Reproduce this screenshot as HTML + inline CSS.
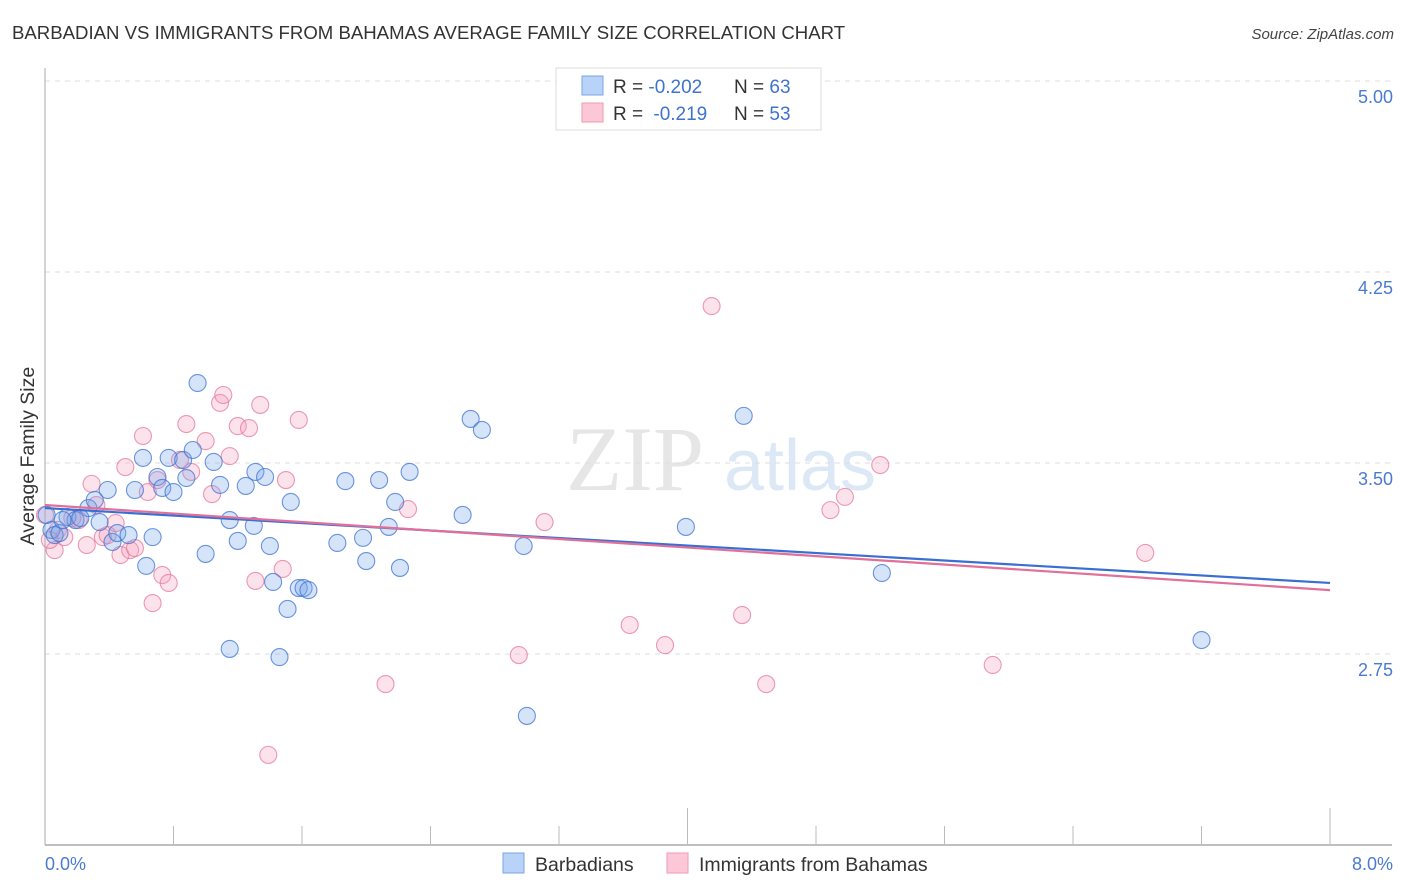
<!DOCTYPE html>
<html><head><meta charset="utf-8"><style>
body{margin:0;background:#fff;font-family:"Liberation Sans",sans-serif;}
svg{display:block}
</style></head><body>
<svg id="chart" width="1406" height="892" viewBox="0 0 1406 892" xmlns="http://www.w3.org/2000/svg">
<text x="12" y="39" font-size="18.6" fill="#333">BARBADIAN VS IMMIGRANTS FROM BAHAMAS AVERAGE FAMILY SIZE CORRELATION CHART</text>
<text x="1394" y="39" font-size="15" fill="#444" font-style="italic" text-anchor="end">Source: ZipAtlas.com</text>
<g>
<text x="635" y="490" font-family="Liberation Serif,serif" font-size="92" fill="#e6e6e6" text-anchor="middle">ZIP</text>
<text x="800" y="490" font-size="72" fill="#dde8f6" text-anchor="middle">atlas</text>
</g>
<g id="grid"></g>
<g id="axes"></g>
<g id="pts"></g>
<g id="trend"></g>
<text transform="translate(34,456) rotate(-90)" font-size="19.5" fill="#333" text-anchor="middle">Average Family Size</text>
<g>
<rect x="556" y="68" width="265" height="62" fill="#fff" stroke="#ddd"/>
<rect x="582" y="76" width="21" height="19" fill="#b8d3f7" stroke="#7aa6e6"/>
<rect x="582" y="103" width="21" height="19" fill="#fcc8d8" stroke="#ee9ab5"/>
<text x="613" y="93" font-size="19" fill="#333">R = <tspan fill="#3f73d0">-0.202</tspan><tspan x="734">N = </tspan><tspan fill="#3f73d0">63</tspan></text>
<text x="613" y="120" font-size="19" fill="#333">R = <tspan fill="#3f73d0" dx="5">-0.219</tspan><tspan x="734">N = </tspan><tspan fill="#3f73d0">53</tspan></text>
</g>
<g>
<rect x="503" y="853" width="21" height="20" fill="#b8d3f7" stroke="#7aa6e6"/>
<text x="535" y="871" font-size="19.5" fill="#333">Barbadians</text>
<rect x="667" y="853" width="21" height="20" fill="#fcc8d8" stroke="#ee9ab5"/>
<text x="699" y="871" font-size="19.5" fill="#333">Immigrants from Bahamas</text>
</g>
</svg>
<script>
const yTicks=[5.00,4.25,3.50,2.75];
const yTickLabels=["5.00","4.25","3.50","2.75"];
const xTickLabels=["0.0%","8.0%"];
const blueX=[.04,.06,.09,.14,.19,.27,.31,.34,.39,.42,.45,.52,.56,.61,.63,.67,.70,.73,.77,.80,.86,.88,.92,.95,1.00,1.05,1.09,1.15,1.15,1.20,1.25,1.30,1.31,1.37,1.40,1.42,1.46,1.51,1.53,1.58,1.61,1.64,1.82,1.87,1.98,2.00,2.08,2.14,2.18,2.21,2.27,2.60,2.65,2.72,2.98,3.00,3.99,4.35,5.21,7.20,.01,.11,.22];
const blueY=[3.237,3.217,3.225,3.288,3.276,3.323,3.355,3.268,3.394,3.190,3.225,3.217,3.394,3.520,3.096,3.209,3.445,3.402,3.520,3.386,3.512,3.441,3.551,3.814,3.143,3.504,3.414,3.276,2.770,3.194,3.410,3.253,3.465,3.445,3.174,3.033,2.738,2.927,3.347,3.009,3.009,3.001,3.186,3.429,3.206,3.115,3.433,3.249,3.347,3.088,3.465,3.296,3.673,3.630,3.174,2.507,3.249,3.685,3.068,2.805,3.296,3.276,3.284];
const pinkX=[.06,.08,.12,.21,.26,.29,.32,.36,.39,.44,.47,.50,.53,.56,.61,.64,.67,.70,.73,.77,.84,.88,.91,1.00,1.04,1.09,1.11,1.15,1.20,1.27,1.31,1.34,1.48,1.50,1.58,2.26,2.12,2.95,3.11,3.64,3.86,4.15,4.34,4.49,4.89,4.98,5.20,5.90,6.85,1.39,0.00,.17,.03];
const pinkY=[3.158,3.237,3.209,3.276,3.178,3.418,3.335,3.209,3.217,3.264,3.139,3.484,3.158,3.166,3.606,3.386,2.950,3.433,3.060,3.029,3.512,3.653,3.465,3.586,3.378,3.736,3.767,3.527,3.645,3.637,3.037,3.728,3.084,3.433,3.669,3.319,2.632,2.746,3.268,2.864,2.785,4.116,2.903,2.632,3.315,3.367,3.492,2.707,3.147,2.354,3.296,3.284,3.198];
const blueTrend=[3.323,3.029];
const pinkTrend=[3.335,3.001];

const X0=45,X1=1330,Y35=463,PPU=254.7;
const xs=v=>X0+(v/8)*(X1-X0);
const ys=v=>Y35-(v-3.5)*PPU;
const NS="http://www.w3.org/2000/svg";
function mk(tag,attrs,parent){const e=document.createElementNS(NS,tag);for(const k in attrs)e.setAttribute(k,attrs[k]);parent.appendChild(e);return e;}
const grid=document.getElementById('grid'),axes=document.getElementById('axes'),pts=document.getElementById('pts'),trend=document.getElementById('trend');
yTicks.forEach((t,i)=>{
  const l=mk('line',{x1:X0,x2:1392,y1:ys(t),y2:ys(t),stroke:'#ddd','stroke-dasharray':'5,5'},grid);
  
  
  const tx=mk('text',{x:1393,y:ys(t)+22,'font-size':18,fill:'#4a7bd0','text-anchor':'end'},axes);
  tx.textContent=yTickLabels[i];
  
  
});
mk('line',{x1:X0,x2:X0,y1:68,y2:845,stroke:'#aaa'},axes);
mk('line',{x1:X0,x2:1392,y1:845,y2:845,stroke:'#aaa','stroke-width':1.5},axes);
for(let i=1;i<=10;i++){
  const x=xs(i*0.8);
  const major=(i===5||i===10);
  const t=mk('line',{x1:x,x2:x,y1:major?808:826,y2:845,stroke:'#bbb'},axes);
  
  
}
[[0,'start',45],[1,'end',1393]].forEach(([i,a,x])=>{
  const tx=mk('text',{x:x,y:870,'font-size':18,fill:'#4a7bd0','text-anchor':a},axes);
  tx.textContent=xTickLabels[i];
  
  
});
function series(X,Y,fill,stroke,name){
  X.forEach((x,i)=>{
    const c=mk('circle',{cx:xs(x),cy:ys(Y[i]),r:8.5,fill:fill,stroke:stroke,'stroke-width':1.1},pts);
    
    
  });
}
series(pinkX,pinkY,'rgba(244,160,188,0.3)','rgba(230,120,155,0.75)','point-bahamas');
series(blueX,blueY,'rgba(120,165,235,0.3)','rgba(60,115,210,0.75)','point-barbadians');
const bl=mk('line',{x1:xs(0),y1:ys(blueTrend[0]),x2:xs(8),y2:ys(blueTrend[1]),stroke:'#3a6fd2','stroke-width':2.2},trend);


const pl=mk('line',{x1:xs(0),y1:ys(pinkTrend[0]),x2:xs(8),y2:ys(pinkTrend[1]),stroke:'#e0709a','stroke-width':2.2},trend);


</script>
</body></html>
